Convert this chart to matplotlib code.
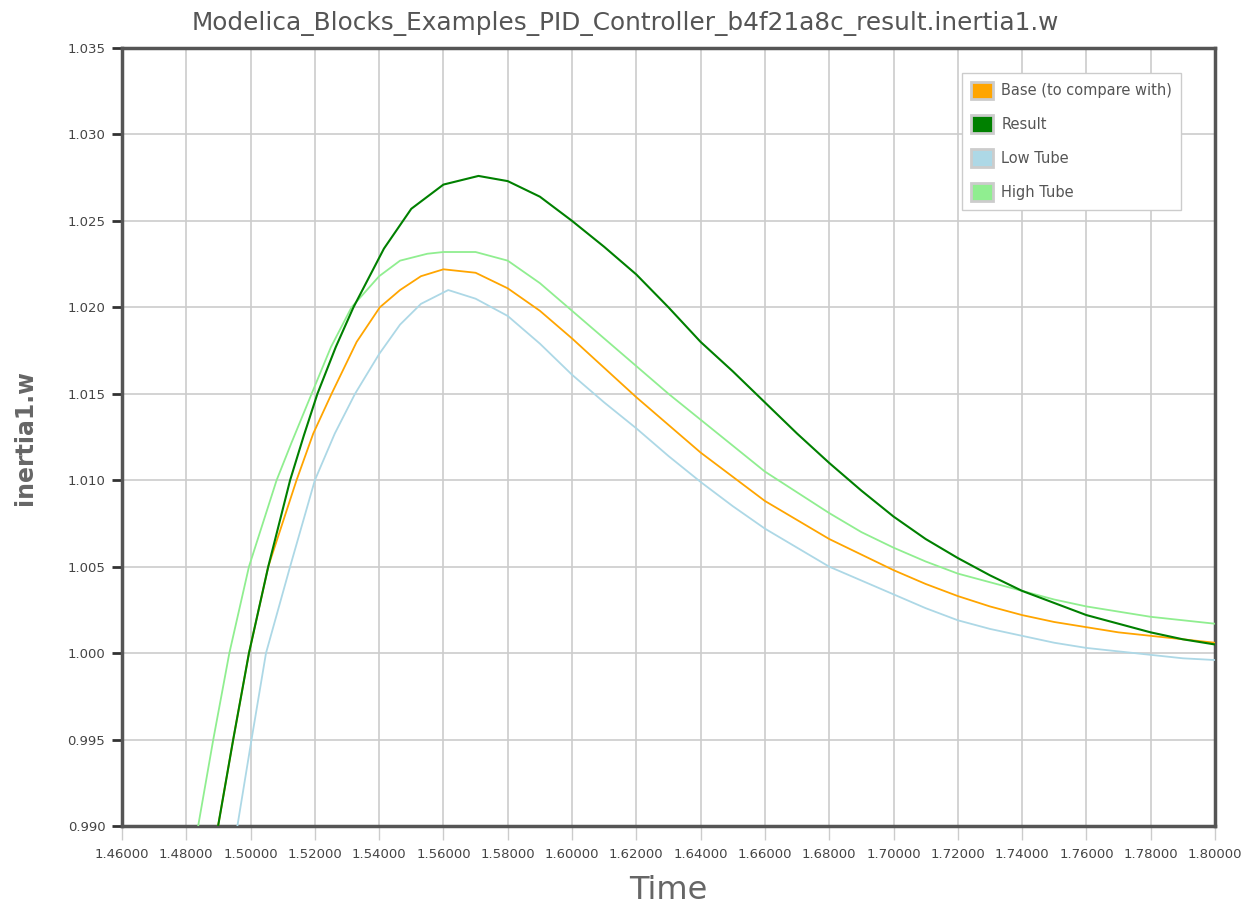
import matplotlib
matplotlib.use("Agg")
import matplotlib.pyplot as plt
from matplotlib.patches import Patch

# values
result_t = [1.4899, 1.4946, 1.4995, 1.5055, 1.5123, 1.5166, 1.5208, 1.5265, 1.532, 1.5415, 1.55, 1.56, 1.5709,
            1.58, 1.59, 1.60, 1.61, 1.62, 1.63, 1.64, 1.65, 1.66, 1.67, 1.68, 1.69, 1.70, 1.71, 1.72, 1.73,
            1.74, 1.75, 1.76, 1.77, 1.78, 1.79, 1.80]
result_v = [0.990, 0.995, 1.000, 1.005, 1.010, 1.0126, 1.015, 1.0177, 1.020, 1.0234, 1.0257, 1.0271, 1.0276,
            1.0273, 1.0264, 1.0250, 1.0235, 1.0219, 1.0200, 1.0180, 1.0163, 1.0145, 1.0127, 1.0110, 1.0094,
            1.0079, 1.0066, 1.0055, 1.0045, 1.0036, 1.0029, 1.0022, 1.0017, 1.0012, 1.0008, 1.0005]

base_t = [1.4899, 1.4946, 1.4995, 1.5055, 1.5143, 1.5195, 1.5252, 1.5330, 1.5402, 1.5465, 1.5530, 1.56, 1.57,
          1.58, 1.59, 1.60, 1.61, 1.62, 1.63, 1.64, 1.65, 1.66, 1.67, 1.68, 1.69, 1.70, 1.71, 1.72, 1.73,
          1.74, 1.75, 1.76, 1.77, 1.78, 1.79, 1.80]
base_v = [0.990, 0.995, 1.000, 1.005, 1.010, 1.0127, 1.015, 1.0180, 1.020, 1.0210, 1.0218, 1.0222, 1.0220,
          1.0211, 1.0198, 1.0182, 1.0165, 1.0148, 1.0132, 1.0116, 1.0102, 1.0088, 1.0077, 1.0066, 1.0057,
          1.0048, 1.0040, 1.0033, 1.0027, 1.0022, 1.0018, 1.0015, 1.0012, 1.0010, 1.0008, 1.0006]

low_t = [1.4959, 1.5003, 1.5048, 1.5123, 1.5200, 1.5262, 1.5325, 1.54, 1.5465, 1.5530, 1.5615, 1.57,
         1.58, 1.59, 1.60, 1.61, 1.62, 1.63, 1.64, 1.65, 1.66, 1.67, 1.68, 1.69, 1.70, 1.71, 1.72, 1.73,
         1.74, 1.75, 1.76, 1.77, 1.78, 1.79, 1.80]
low_v = [0.990, 0.995, 1.000, 1.005, 1.010, 1.0127, 1.015, 1.0173, 1.0190, 1.0202, 1.0210, 1.0205,
         1.0195, 1.0179, 1.0161, 1.0145, 1.0130, 1.0114, 1.0099, 1.0085, 1.0072, 1.0061, 1.0050, 1.0042,
         1.0034, 1.0026, 1.0019, 1.0014, 1.0010, 1.0006, 1.0003, 1.0001, 0.9999, 0.9997, 0.9996]

high_t = [1.4837, 1.4884, 1.4934, 1.4995, 1.5081, 1.5128, 1.5190, 1.5250, 1.5314, 1.54, 1.5465, 1.555, 1.56,
          1.57, 1.58, 1.59, 1.60, 1.61, 1.62, 1.63, 1.64, 1.65, 1.66, 1.67, 1.68, 1.69, 1.70, 1.71, 1.72,
          1.73, 1.74, 1.75, 1.76, 1.77, 1.78, 1.79, 1.80]
high_v = [0.990, 0.995, 1.000, 1.005, 1.010, 1.0122, 1.015, 1.0177, 1.020, 1.0218, 1.0227, 1.0231, 1.0232,
          1.0232, 1.0227, 1.0214, 1.0198, 1.0182, 1.0166, 1.0150, 1.0135, 1.0120, 1.0105, 1.0093, 1.0081,
          1.0070, 1.0061, 1.0053, 1.0046, 1.0041, 1.0036, 1.0031, 1.0027, 1.0024, 1.0021, 1.0019, 1.0017]

x_ticks = [1.46 + 0.02 * i for i in range(18)]
y_ticks = [0.990 + 0.005 * i for i in range(10)]

fig = plt.figure(figsize=(12.51, 9.09), dpi=100)
ax = fig.add_axes([0.0975, 0.0913, 0.8737, 0.8559])

ax.plot(high_t, high_v, color="#90EE90", lw=1.3, zorder=3)
ax.plot(low_t, low_v, color="#ADD8E6", lw=1.3, zorder=3)
ax.plot(base_t, base_v, color="#FFA500", lw=1.3, zorder=4)
ax.plot(result_t, result_v, color="#008000", lw=1.5, zorder=5)

ax.set_xlim(1.46, 1.80)
ax.set_ylim(0.990, 1.035)
ax.set_xticks(x_ticks)
ax.set_yticks(y_ticks)
ax.set_xticklabels([f"{t:.5f}" for t in x_ticks])
ax.set_yticklabels([f"{v:.3f}" for v in y_ticks])
ax.tick_params(axis="x", length=10, width=1, color="#cccccc", labelsize=9.5, labelcolor="#444444", pad=6)
ax.tick_params(axis="y", length=7, width=2, color="#333333", labelsize=9.5, labelcolor="#444444", pad=5)
ax.grid(True, color="#cccccc", lw=1.2)
ax.set_axisbelow(True)
for s in ax.spines.values():
    s.set_color("#555555")
    s.set_linewidth(2.5)

ax.set_xlabel("Time", fontsize=23, color="#666666", labelpad=10)
ax.set_ylabel("inertia1.w", fontsize=17, fontweight="bold", color="#666666", labelpad=22)
fig.text(0.5, 1 - 23 / 909, "Modelica_Blocks_Examples_PID_Controller_b4f21a8c_result.inertia1.w",
         ha="center", va="center", fontsize=17.8, color="#555555")

handles = [Patch(facecolor="#FFA500", edgecolor="#cccccc", lw=2, label="Base (to compare with)"),
           Patch(facecolor="#008000", edgecolor="#cccccc", lw=2, label="Result"),
           Patch(facecolor="#ADD8E6", edgecolor="#cccccc", lw=2, label="Low Tube"),
           Patch(facecolor="#90EE90", edgecolor="#cccccc", lw=2, label="High Tube")]
leg = ax.legend(handles=handles, loc="upper left", bbox_to_anchor=(0.7685, 0.968), borderaxespad=0,
                fontsize=10.5, handlelength=1.5, handleheight=1.5, handletextpad=0.6, labelspacing=1.1,
                fancybox=False, framealpha=1, edgecolor="#cccccc", borderpad=0.6)
for t in leg.get_texts():
    t.set_color("#555555")

fig.savefig("out.png", dpi=100)
